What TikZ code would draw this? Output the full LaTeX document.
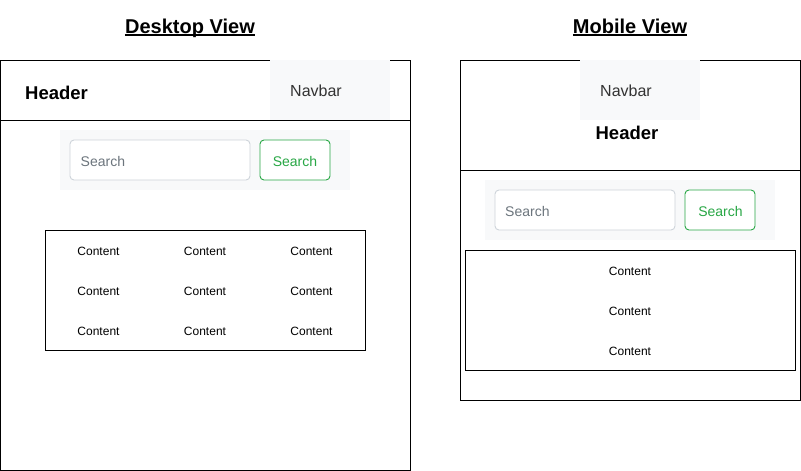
\documentclass[tikz,border=0pt]{standalone}
\usepackage{fontspec}
\setmainfont{Liberation Sans}
\definecolor{panel}{HTML}{F8F9FA}
\definecolor{navtext}{HTML}{333333}
\definecolor{ph}{HTML}{6C757D}
\definecolor{inbord}{HTML}{CED4DA}
\definecolor{btn}{HTML}{28A745}
\begin{document}
\begin{tikzpicture}[x=1pt,y=-1pt,
  frame/.style={draw=black,line width=1pt},
  navbox/.style={fill=panel,draw=none},
  panelbox/.style={fill=panel,draw=none},
  inputbox/.style={draw=inbord,fill=white,line width=0.9pt,rounded corners=4pt},
  btnbox/.style={draw=btn,fill=white,line width=0.9pt,rounded corners=4pt},
  title/.style={font=\fontsize{20}{24}\selectfont\bfseries,inner sep=0pt,anchor=base},
  hdr/.style={font=\fontsize{18.5}{22}\selectfont\bfseries,inner sep=0pt},
  nav/.style={font=\fontsize{16}{19}\selectfont,text=navtext,inner sep=0pt,anchor=base},
  phtext/.style={font=\fontsize{14}{17}\selectfont,text=ph,inner sep=0pt,anchor=base west},
  btntext/.style={font=\fontsize{14}{17}\selectfont,text=btn,inner sep=0pt,anchor=base},
  cont/.style={font=\fontsize{12}{14}\selectfont,inner sep=0pt,anchor=base}]
\useasboundingbox (0,0) rectangle (801,471);

% titles
\node[title] (t1) at (190,33) {Desktop View};
\draw[line width=1.4pt] ([yshift=-2pt]t1.base west) -- ([yshift=-2pt]t1.base east);
\node[title] (t2) at (630,33) {Mobile View};
\draw[line width=1.4pt] ([yshift=-2pt]t2.base west) -- ([yshift=-2pt]t2.base east);

% ---------- Desktop ----------
\draw[frame] (0.5,60.5) rectangle (410,470);
\draw[frame] (0.5,120) -- (410,120);
\fill[navbox] (270,60) rectangle (390,120);
\node[hdr,anchor=base west] (dh) at (25,99.5) {Header};
\node[nav] (dn) at (316,96) {Navbar};
\fill[panelbox] (60,130) rectangle (350,190);
\draw[inputbox] (70,140) rectangle (250,180);
\node[phtext] (dsi) at (80.5,166) {Search};
\draw[btnbox] (260,140) rectangle (330,180);
\node[btntext] (dsb) at (295,166) {Search};
\draw[frame] (45.5,230.5) rectangle (365.5,350.5);
\foreach \r/\yy in {1/255,2/295,3/335}{
  \foreach \c/\xx in {1/98.5,2/205,3/311.5}{
    \node[cont] (dc\r\c) at (\xx,\yy) {Content};
  }
}

% ---------- Mobile ----------
\draw[frame] (460.5,60.5) rectangle (800.5,400.5);
\draw[frame] (460.5,170.5) -- (800.5,170.5);
\fill[navbox] (580,60) rectangle (700,120);
\node[nav] (mn) at (626,96) {Navbar};
\node[hdr,anchor=base] (mh) at (627,139.5) {Header};
\fill[panelbox] (485,180) rectangle (775,240);
\draw[inputbox] (495,190) rectangle (675,230);
\node[phtext] (msi) at (505,216) {Search};
\draw[btnbox] (685,190) rectangle (755,230);
\node[btntext] (msb) at (720.5,216) {Search};
\draw[frame] (465.5,250.5) rectangle (795.5,370.5);
\foreach \r/\yy in {1/275,2/315,3/355}{
  \node[cont] (mc\r) at (630,\yy) {Content};
}
\end{tikzpicture}
\end{document}
